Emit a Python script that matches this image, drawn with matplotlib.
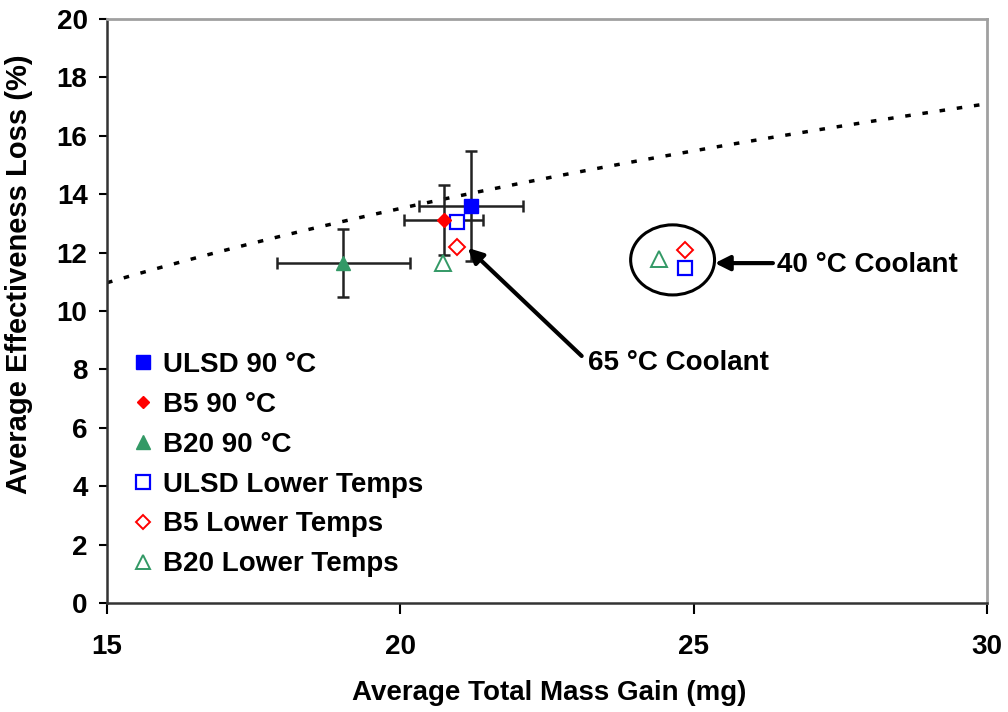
#effectiveness loss vs mass gain chart

import numpy as np
import matplotlib
matplotlib.use('Agg')
import matplotlib.pyplot as plt
from matplotlib.patches import Ellipse

plt.rcParams['font.family'] = ['Liberation Sans', 'DejaVu Sans']
plt.rcParams['font.weight'] = 'bold'

#data for the 90 C runs (mean and error bars)
ulsd90_x, ulsd90_y = 21.20, 13.60
ulsd90_xerr, ulsd90_yerr = 0.89, 1.89
b5_90_x, b5_90_y = 20.74, 13.12
b5_90_xerr, b5_90_yerr = 0.67, 1.20
b20_90_x, b20_90_y = 19.03, 11.65
b20_90_xerr, b20_90_yerr = 1.13, 1.16

#lower coolant temps (65 C and 40 C)
ulsd_low_x = [20.97, 24.86]
ulsd_low_y = [13.04, 11.46]
b5_low_x = [20.97, 24.86]
b5_low_y = [12.18, 12.09]
b20_low_x = [20.73, 24.41]
b20_low_y = [11.63, 11.77]

#log trendline y = a*ln(x) + b
trend_a = 8.84
trend_b = -12.97

blue = '#0000ff'
red = '#ff0000'
green = '#339966'

fig = plt.figure(figsize=(10.08, 7.12), dpi=100)
ax = fig.add_axes([0.1062, 0.1531, 0.873, 0.8202])

xt = np.linspace(15, 30, 200)
ax.plot(xt, trend_a * np.log(xt) + trend_b, color='black', lw=2.5, linestyle=(0, (1.6, 3.4)), zorder=1)

ax.errorbar(ulsd90_x, ulsd90_y, xerr=ulsd90_xerr, yerr=ulsd90_yerr, fmt='none', ecolor='#222222', elinewidth=1.8, capsize=4, capthick=1.8, zorder=2)
ax.errorbar(b5_90_x, b5_90_y, xerr=b5_90_xerr, yerr=b5_90_yerr, fmt='none', ecolor='#222222', elinewidth=1.8, capsize=4, capthick=1.8, zorder=2)
ax.errorbar(b20_90_x, b20_90_y, xerr=b20_90_xerr, yerr=b20_90_yerr, fmt='none', ecolor='#222222', elinewidth=1.8, capsize=4, capthick=1.8, zorder=2)

ax.plot(ulsd90_x, ulsd90_y, 's', color=blue, ms=10.5, label='ULSD 90 °C', zorder=4)
ax.plot(b5_90_x, b5_90_y, 'D', color=red, ms=7, label='B5 90 °C', zorder=4)
ax.plot(b20_90_x, b20_90_y, '^', color=green, ms=10.5, label='B20 90 °C', zorder=4)
ax.plot(ulsd_low_x, ulsd_low_y, 's', mfc='white', mec=blue, mew=1.6, ms=10.5, label='ULSD Lower Temps', zorder=3)
ax.plot(b5_low_x, b5_low_y, 'D', mfc='white', mec=red, mew=1.4, ms=8, label='B5 Lower Temps', zorder=3)
ax.plot(b20_low_x, b20_low_y, '^', mfc='white', mec=green, mew=1.4, ms=11, label='B20 Lower Temps', zorder=3)

#circle round the 40 C points
ax.add_patch(Ellipse((24.64, 11.75), 1.43, 2.40, fill=False, ec='black', lw=2.2, zorder=3))

#arrows and their labels
arrow = dict(arrowstyle='-|>', color='black', lw=3, mutation_scale=22, shrinkA=0, shrinkB=0)
ax.annotate('', xy=(25.36, 11.64), xytext=(26.35, 11.64), arrowprops=arrow)
ax.text(26.42, 11.58, '40 °C Coolant', fontsize=20, fontweight='bold', va='center', ha='left')
ax.annotate('', xy=(21.15, 12.16), xytext=(23.09, 8.46), arrowprops=arrow)
ax.text(23.20, 8.22, '65 °C Coolant', fontsize=20, fontweight='bold', va='center', ha='left')

ax.set_xlim(15, 30)
ax.set_ylim(0, 20)
ax.set_xticks([15, 20, 25, 30])
ax.set_yticks(range(0, 21, 2))
ax.tick_params(axis='x', direction='out', length=8, width=1.5, pad=14, labelsize=20)
ax.tick_params(axis='y', direction='out', length=6, width=1.5, pad=8, labelsize=20)
for s in ['left', 'bottom']:
    ax.spines[s].set_color('#333333')
    ax.spines[s].set_linewidth(1.8)
for s in ['top', 'right']:
    ax.spines[s].set_color('#a0a0a0')
    ax.spines[s].set_linewidth(2)

ax.set_xlabel('Average Total Mass Gain (mg)', fontsize=20, fontweight='bold')
ax.set_ylabel('Average Effectiveness Loss (%)', fontsize=21, fontweight='bold')
ax.xaxis.set_label_coords(0.502, -0.132)
ax.yaxis.set_label_coords(-0.084, 0.563)

ax.legend(loc='upper left', bbox_to_anchor=(0.030, 0.43), frameon=False, fontsize=20,
          handlelength=0.7, handletextpad=0.35, labelspacing=0.5, borderpad=0, borderaxespad=0,
          numpoints=1, markerscale=0.9)

plt.savefig('out.png', dpi=100)
plt.close()
